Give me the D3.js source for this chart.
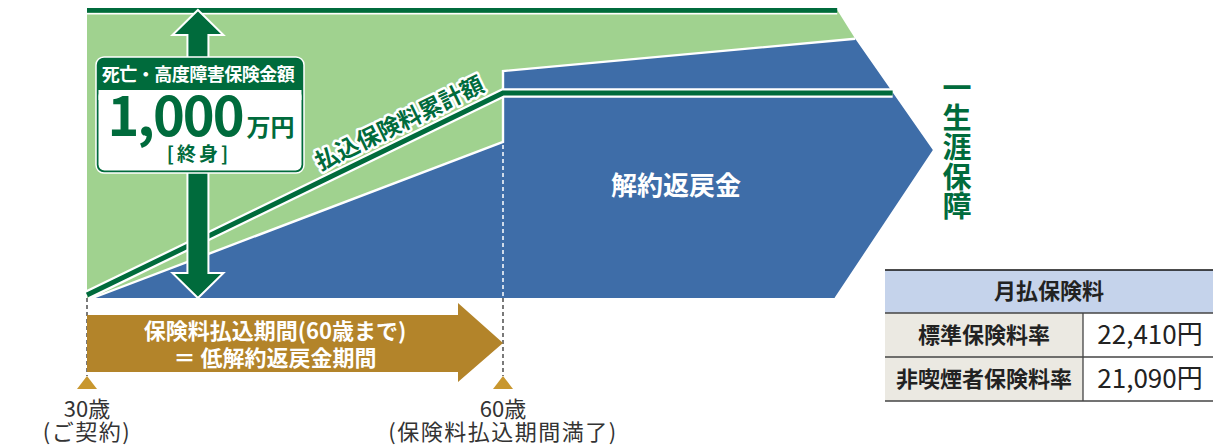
<!DOCTYPE html>
<html>
<head>
<meta charset="utf-8">
<script src="https://cdn.jsdelivr.net/npm/d3@7"></script>
<style>
  html, body { margin: 0; padding: 0; background: #fff; }
  svg { display: block; font-family: "Noto Sans CJK JP", "Noto Sans", sans-serif; }
</style>
</head>
<body>
<svg id="chart" width="1228" height="446"></svg>
<script>
// ages on the timeline and their labels
const tickAges = [30, 60];
const tickLabels = ["30歳", "60歳"];
const tickNotes = ["(ご契約)", "(保険料払込期間満了)"];

// death / disability benefit (万円) : flat then tapers at the arrow end
const benefitAges = [30, 84.1, 85.4];
const benefitValues = [1000, 1000, 900];

// cumulative premiums paid (万円)
const premiumAges = [30, 60, 88.1];
const premiumValues = [10, 712, 712];

// surrender value (万円), last two points close the arrow shape
const cashAges = [30.4, 60, 60, 85.4, 91, 83.9];
const cashValues = [0, 542, 788, 900, 514, 0];

// monthly premium table
const tableTitle = "月払保険料";
const tableRows = ["標準保険料率", "非喫煙者保険料率"];
const tableValues = ["22,410円", "21,090円"];

const benefitAmount = "1,000";
const dkGreen = "#006b3c", ltGreen = "#a0d28f", blue = "#3e6da8", brown = "#b3842a", gold = "#c8972f";

let svg = d3.select("#chart");
let x = d3.scaleLinear().domain([30, 60]).range([87, 503]);
let y = d3.scaleLinear().domain([0, 1000]).range([298, 10]);

let pts = (ages, vals) => ages.map((a, i) => [x(a), y(vals[i])]);
let line = d3.line();

//green area: benefit
let greenPts = [[x(30), y(0)]].concat(pts(benefitAges, benefitValues), [[x(cashAges[5]), y(0)]]);
svg.append("path").attr("d", line(greenPts) + "Z").style("fill", ltGreen);

//top benefit line
svg.append("line")
    .attr("x1", x(benefitAges[0])).attr("x2", x(benefitAges[1]))
    .attr("y1", y(1000) + 3.6).attr("y2", y(1000) + 3.6)
    .style("stroke", "#fff").style("stroke-width", 1.6);
svg.append("line")
    .attr("x1", x(benefitAges[0])).attr("x2", x(benefitAges[1]))
    .attr("y1", y(1000) + 0.4).attr("y2", y(1000) + 0.4)
    .style("stroke", dkGreen).style("stroke-width", 4.6);

//blue area: surrender value
let cashPts = pts(cashAges, cashValues);
svg.append("path").attr("d", line(cashPts) + "Z").style("fill", blue);
svg.append("path").attr("d", line(cashPts.slice(0, 4)))
    .style("fill", "none").style("stroke", "#fff").style("stroke-width", 2.4);

//dashed guides
svg.append("line")
    .attr("x1", x(60)).attr("x2", x(60)).attr("y1", y(cashValues[1]) + 3).attr("y2", y(0))
    .style("stroke", "#fff").style("stroke-width", 1.5).style("stroke-dasharray", "4,3");
tickAges.forEach(a => {
    svg.append("line")
        .attr("x1", x(a)).attr("x2", x(a)).attr("y1", y(0)).attr("y2", 376)
        .style("stroke", "#333").style("stroke-width", 1.3).style("stroke-dasharray", "4,3");
});

//cumulative premium line
let premPts = pts(premiumAges, premiumValues);
svg.append("path").attr("d", line(premPts))
    .style("fill", "none").style("stroke", "#fff").style("stroke-width", 9.5);
svg.append("path").attr("d", line(premPts))
    .style("fill", "none").style("stroke", dkGreen).style("stroke-width", 5);

//label along the premium line
let p0 = premPts[0], p1 = premPts[1];
let angle = Math.atan2(p1[1] - p0[1], p1[0] - p0[0]) * 180 / Math.PI;
let la = 53.1;
let lv = premiumValues[0] + (la - 30) / 30 * (premiumValues[1] - premiumValues[0]);
svg.append("text")
    .attr("transform", "translate(" + x(la) + "," + y(lv) + ") rotate(" + angle + ")")
    .attr("text-anchor", "middle").attr("dy", "-10")
    .style("font-size", "23px").style("font-weight", 700)
    .style("fill", dkGreen).style("stroke", "#fff").style("stroke-width", 5)
    .style("stroke-linejoin", "round").style("paint-order", "stroke")
    .text("払込保険料累計額");

//double arrow for the benefit
let ax = x(38), sw = 10.5, hw = 25.5, hh = 25;
let yt = y(1000), yb = y(0);
let arrow = [[ax, yt], [ax + hw, yt + hh], [ax + sw, yt + hh], [ax + sw, yb - hh], [ax + hw, yb - hh],
             [ax, yb], [ax - hw, yb - hh], [ax - sw, yb - hh], [ax - sw, yt + hh], [ax - hw, yt + hh]];
svg.append("path").attr("d", line(arrow) + "Z")
    .style("fill", dkGreen).style("stroke", "#fff").style("stroke-width", 2).style("stroke-linejoin", "miter");

//benefit box
let box = svg.append("g");
box.append("rect").attr("x", 96).attr("y", 57).attr("width", 208).attr("height", 116).attr("rx", 8)
    .style("fill", dkGreen).style("stroke", "#fff").style("stroke-width", 1.5);
box.append("rect").attr("x", 98.5).attr("y", 90).attr("width", 203).attr("height", 80.5).attr("rx", 6)
    .style("fill", "#fff");
box.append("rect").attr("x", 98.5).attr("y", 90).attr("width", 203).attr("height", 10).style("fill", "#fff");
box.append("text").attr("x", 198).attr("y", 81).attr("text-anchor", "middle")
    .style("font-size", "18px").style("font-weight", 700).style("fill", "#fff")
    .style("letter-spacing", "-0.5px")
    .text("死亡・高度障害保険金額");
let amt = box.append("text").attr("x", 201).attr("y", 136).attr("text-anchor", "middle")
    .style("fill", dkGreen).style("font-weight", 700);
amt.append("tspan").style("font-size", "54px").style("letter-spacing", "-2px").text(benefitAmount);
amt.append("tspan").style("font-size", "24px").attr("dx", 4).text("万円");
box.append("text").attr("x", 199).attr("y", 161).attr("text-anchor", "middle")
    .style("font-size", "19px").style("font-weight", 700).style("fill", dkGreen)
    .style("letter-spacing", "3px")
    .text("[終身]");

//surrender value label
svg.append("text").attr("x", 676).attr("y", 195).attr("text-anchor", "middle")
    .style("font-size", "26px").style("font-weight", 700).style("fill", "#fff")
    .text("解約返戻金");

//lifetime coverage, vertical
let vt = svg.append("text").attr("text-anchor", "middle")
    .style("font-size", "29px").style("font-weight", 700).style("fill", dkGreen);
Array.from("一生涯保障").forEach((c, i) => {
    vt.append("tspan").attr("x", 957).attr("y", 99 + i * 29.5).text(c);
});

//premium paying period arrow
let bx0 = x(30), bx1 = x(60), hb = bx1 - 45;
let brownArrow = [[bx0, 315], [hb, 315], [hb, 303], [bx1, 343], [hb, 382], [hb, 372], [bx0, 372]];
svg.append("path").attr("d", line(brownArrow) + "Z").style("fill", brown);
svg.append("text").attr("x", 275).attr("y", 339).attr("text-anchor", "middle")
    .style("font-size", "22px").style("font-weight", 700).style("fill", "#fff")
    .text("保険料払込期間(60歳まで)");
svg.append("text").attr("x", 275).attr("y", 366).attr("text-anchor", "middle")
    .style("font-size", "22px").style("font-weight", 700).style("fill", "#fff")
    .text("＝ 低解約返戻金期間");

//age ticks
tickAges.forEach((a, i) => {
    let cx = x(a);
    svg.append("path").attr("d", line([[cx, 376], [cx + 10, 389], [cx - 10, 389]]) + "Z").style("fill", gold);
    svg.append("text").attr("x", cx).attr("y", 417).attr("text-anchor", "middle")
        .style("font-size", "22px").style("fill", "#333").text(tickLabels[i]);
    svg.append("text").attr("x", cx).attr("y", 440).attr("text-anchor", "middle")
        .style("font-size", "22px").style("fill", "#333")
        .style("letter-spacing", "1.5px")
        .text(tickNotes[i]);
});

//monthly premium table
let tx0 = 885, tx1 = 1213, tsplit = 1083;
let rowY = [270, 313, 357, 401];
let tbl = svg.append("g");
tbl.append("rect").attr("x", tx0).attr("y", rowY[0]).attr("width", tx1 - tx0).attr("height", rowY[1] - rowY[0])
    .style("fill", "#c5d3eb");
tableRows.forEach((r, i) => {
    tbl.append("rect").attr("x", tx0).attr("y", rowY[i + 1]).attr("width", tsplit - tx0)
        .attr("height", rowY[i + 2] - rowY[i + 1]).style("fill", "#ebe9e2");
    let cy = (rowY[i + 1] + rowY[i + 2]) / 2;
    tbl.append("text").attr("x", (tx0 + tsplit) / 2).attr("y", cy).attr("dy", "0.36em")
        .attr("text-anchor", "middle")
        .style("font-size", "22px").style("font-weight", 700).style("fill", "#222").text(r);
    tbl.append("text").attr("x", (tsplit + tx1) / 2 + 2).attr("y", cy).attr("dy", "0.36em")
        .attr("text-anchor", "middle")
        .style("font-size", "26px").style("fill", "#222").text(tableValues[i]);
});
tbl.append("text").attr("x", (tx0 + tx1) / 2).attr("y", (rowY[0] + rowY[1]) / 2).attr("dy", "0.36em")
    .attr("text-anchor", "middle")
    .style("font-size", "22px").style("font-weight", 700).style("fill", "#222").text(tableTitle);
rowY.forEach((ry, i) => {
    tbl.append("line").attr("x1", tx0).attr("x2", tx1).attr("y1", ry).attr("y2", ry)
        .style("stroke", i === 0 ? "#111" : "#444").style("stroke-width", i === 0 ? 1.6 : 1.3);
});
tbl.append("line").attr("x1", tsplit).attr("x2", tsplit).attr("y1", rowY[1]).attr("y2", rowY[3])
    .style("stroke", "#444").style("stroke-width", 1.3);
</script>
</body>
</html>
